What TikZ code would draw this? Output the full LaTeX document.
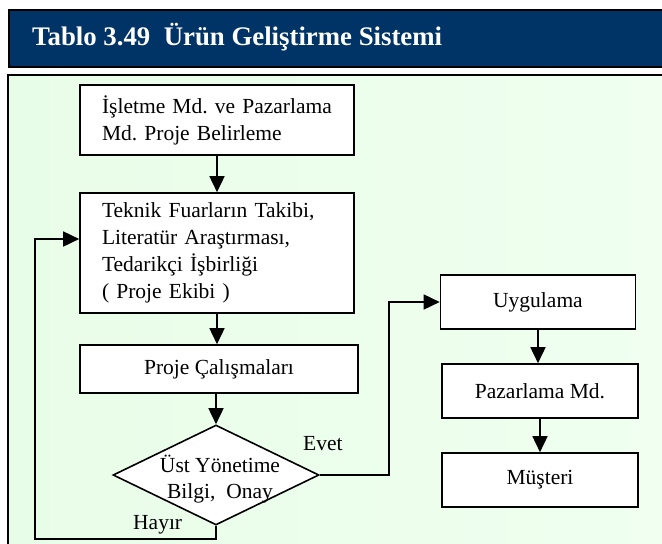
\documentclass[tikz,border=0pt]{standalone}
\usepackage{fontspec}
\setmainfont{Liberation Serif}
\usepackage{tikz}
\usetikzlibrary{positioning,calc,arrows.meta,shapes.geometric}
\definecolor{hdrblue}{RGB}{0,51,102}
\definecolor{bglight}{RGB}{232,253,232}
\definecolor{bgpale}{RGB}{240,255,240}
\frenchspacing
\tikzset{
  box/.style={draw, line width=1.6pt, fill=white, inner sep=0pt, font=\fontsize{21.5}{27}\selectfont},
  dec/.style={draw, diamond, line width=1.6pt, fill=white, inner sep=0pt, minimum width=206pt, minimum height=100pt},
  arr/.style={line width=1.6pt, -{Triangle[length=16pt,width=15pt]}},
  lbl/.style={inner sep=0pt, font=\fontsize{21.5}{26}\selectfont}
}
\newcommand{\bnode}[5]{\node [box, minimum width=#3, minimum height=#4] (#1) at (#2) {#5}}

\begin{document}
\begin{tikzpicture}[x=1pt,y=-1pt]
\useasboundingbox (0,0) rectangle (662,544);

\fill[hdrblue] (9,10) rectangle (670,67);
\draw[line width=2pt] (9,10) rectangle (670,67);
\node [anchor=base west, inner sep=0pt, text=white, font=\bfseries\fontsize{26.8}{30}\selectfont] (title) at (32,45) {Tablo 3.49\ \ Ürün Geliştirme Sistemi};

\shade[left color=bglight, right color=bgpale] (8,75) rectangle (670,552);
\draw[line width=2pt] (8,75) rectangle (670,552);

\node [box, align=left, text width=230pt, inner xsep=22pt, minimum height=70pt] (plan) at (217,120) {İşletme Md. ve Pazarlama\\Md. Proje Belirleme};
\node [box, align=left, text width=230pt, inner xsep=22pt, minimum height=120pt] (team) at (217,253) {Teknik Fuarların Takibi,\\Literatür Araştırması,\\Tedarikçi İşbirliği\\( Proje Ekibi )};
\bnode{work}{219,369}{278pt}{48pt}{Proje Çalışmaları};
\node [dec, label={[lbl, align=center, yshift=-4pt, xshift=4pt]center:Üst Yönetime\\Bilgi,\ \ Onay}] (appr) at (216,475) {};

\bnode{apply}{538,302}{195pt}{54pt}{Uygulama};
\bnode{mkt}{540,391}{196pt}{54pt}{Pazarlama Md.};
\bnode{cust}{540,480}{196pt}{54pt}{Müşteri};

\node [lbl, anchor=base west] (yes) at (303,450) {Evet};
\node [lbl, anchor=base west] (no) at (133,529) {Hayır};

\coordinate (nobot) at (35,539);
\coordinate (notop) at (35,239);
\coordinate (yesc) at (389,475);

\draw[arr] (plan.south -| team.north) -- (team.north);
\draw[arr] (team.south) -- (team.south |- work.north);
\draw[arr] (appr.north |- work.south) -- (appr.north);
\draw[arr] (appr.south) |- (nobot) -- (notop) -- (notop -| team.west);
\draw[arr] (appr.east) -- (yesc) |- (apply.west);
\draw[arr] (apply.south) -- (apply.south |- mkt.north);
\draw[arr] (mkt.south) -- (mkt.south |- cust.north);

\end{tikzpicture}
\end{document}
